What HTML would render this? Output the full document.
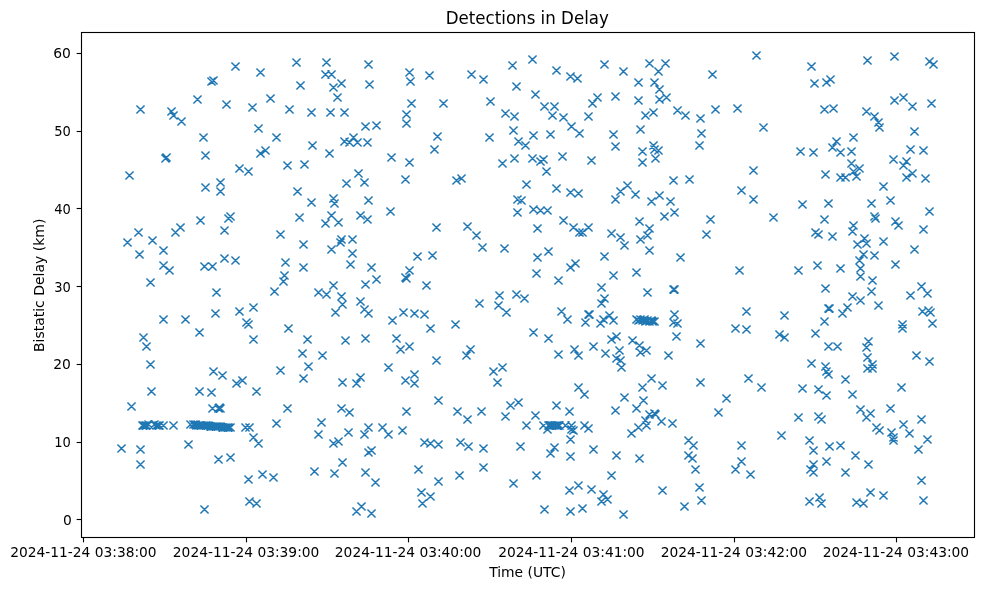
<!DOCTYPE html>
<html lang="en"><head><meta charset="utf-8"><title>Detections in Delay</title>
<style>
html,body{margin:0;padding:0;background:#fff}
body{width:983px;height:590px;overflow:hidden}
svg{display:block}
text{font-family:"DejaVu Sans","Liberation Sans",sans-serif;fill:#000}
.t{font-size:13.89px}
.h{font-size:16.67px}
</style></head>
<body>
<svg width="983" height="590" viewBox="0 0 983 590">
<rect x="0" y="0" width="983" height="590" fill="#fff"/>
<g fill="none" stroke="#1f77b4" stroke-width="1.5">
<path d="M117.45 444.45l8.10 8.10m0 -8.10l-8.10 8.10M123.45 238.45l8.10 8.10m0 -8.10l-8.10 8.10M125.45 171.45l8.10 8.10m0 -8.10l-8.10 8.10M127.45 402.45l8.10 8.10m0 -8.10l-8.10 8.10M134.45 228.45l8.10 8.10m0 -8.10l-8.10 8.10M135.45 250.45l8.10 8.10m0 -8.10l-8.10 8.10M136.45 105.45l8.10 8.10m0 -8.10l-8.10 8.10M136.45 445.45l8.10 8.10m0 -8.10l-8.10 8.10M136.45 460.45l8.10 8.10m0 -8.10l-8.10 8.10M138.45 421.45l8.10 8.10m0 -8.10l-8.10 8.10M139.45 333.45l8.10 8.10m0 -8.10l-8.10 8.10M139.45 421.45l8.10 8.10m0 -8.10l-8.10 8.10M141.45 421.45l8.10 8.10m0 -8.10l-8.10 8.10M142.45 342.45l8.10 8.10m0 -8.10l-8.10 8.10M142.45 421.45l8.10 8.10m0 -8.10l-8.10 8.10M144.45 420.45l8.10 8.10m0 -8.10l-8.10 8.10M146.45 278.45l8.10 8.10m0 -8.10l-8.10 8.10M146.45 360.45l8.10 8.10m0 -8.10l-8.10 8.10M147.45 387.45l8.10 8.10m0 -8.10l-8.10 8.10M148.45 236.45l8.10 8.10m0 -8.10l-8.10 8.10M150.45 420.45l8.10 8.10m0 -8.10l-8.10 8.10M152.45 421.45l8.10 8.10m0 -8.10l-8.10 8.10M154.45 421.45l8.10 8.10m0 -8.10l-8.10 8.10M155.45 421.45l8.10 8.10m0 -8.10l-8.10 8.10M159.45 246.45l8.10 8.10m0 -8.10l-8.10 8.10M159.45 261.45l8.10 8.10m0 -8.10l-8.10 8.10M159.45 315.45l8.10 8.10m0 -8.10l-8.10 8.10M159.45 421.45l8.10 8.10m0 -8.10l-8.10 8.10M161.45 154.45l8.10 8.10m0 -8.10l-8.10 8.10M162.45 153.45l8.10 8.10m0 -8.10l-8.10 8.10M165.45 266.45l8.10 8.10m0 -8.10l-8.10 8.10M167.45 107.45l8.10 8.10m0 -8.10l-8.10 8.10M169.45 111.45l8.10 8.10m0 -8.10l-8.10 8.10M169.45 421.45l8.10 8.10m0 -8.10l-8.10 8.10M171.45 228.45l8.10 8.10m0 -8.10l-8.10 8.10M176.45 223.45l8.10 8.10m0 -8.10l-8.10 8.10M177.45 117.45l8.10 8.10m0 -8.10l-8.10 8.10M181.45 315.45l8.10 8.10m0 -8.10l-8.10 8.10M184.45 440.45l8.10 8.10m0 -8.10l-8.10 8.10M186.45 420.45l8.10 8.10m0 -8.10l-8.10 8.10M189.45 420.45l8.10 8.10m0 -8.10l-8.10 8.10M191.45 420.45l8.10 8.10m0 -8.10l-8.10 8.10M192.45 421.45l8.10 8.10m0 -8.10l-8.10 8.10M193.45 95.45l8.10 8.10m0 -8.10l-8.10 8.10M194.45 421.45l8.10 8.10m0 -8.10l-8.10 8.10M195.45 328.45l8.10 8.10m0 -8.10l-8.10 8.10M195.45 387.45l8.10 8.10m0 -8.10l-8.10 8.10M196.45 216.45l8.10 8.10m0 -8.10l-8.10 8.10M196.45 421.45l8.10 8.10m0 -8.10l-8.10 8.10M197.45 421.45l8.10 8.10m0 -8.10l-8.10 8.10M199.45 133.45l8.10 8.10m0 -8.10l-8.10 8.10M199.45 421.45l8.10 8.10m0 -8.10l-8.10 8.10M200.45 262.45l8.10 8.10m0 -8.10l-8.10 8.10M200.45 505.45l8.10 8.10m0 -8.10l-8.10 8.10M201.45 151.45l8.10 8.10m0 -8.10l-8.10 8.10M201.45 183.45l8.10 8.10m0 -8.10l-8.10 8.10M201.45 421.45l8.10 8.10m0 -8.10l-8.10 8.10M202.45 421.45l8.10 8.10m0 -8.10l-8.10 8.10M204.45 421.45l8.10 8.10m0 -8.10l-8.10 8.10M206.45 422.45l8.10 8.10m0 -8.10l-8.10 8.10M207.45 77.45l8.10 8.10m0 -8.10l-8.10 8.10M207.45 388.45l8.10 8.10m0 -8.10l-8.10 8.10M207.45 422.45l8.10 8.10m0 -8.10l-8.10 8.10M208.45 262.45l8.10 8.10m0 -8.10l-8.10 8.10M208.45 404.45l8.10 8.10m0 -8.10l-8.10 8.10M209.45 76.45l8.10 8.10m0 -8.10l-8.10 8.10M209.45 367.45l8.10 8.10m0 -8.10l-8.10 8.10M209.45 422.45l8.10 8.10m0 -8.10l-8.10 8.10M211.45 309.45l8.10 8.10m0 -8.10l-8.10 8.10M211.45 422.45l8.10 8.10m0 -8.10l-8.10 8.10M212.45 288.45l8.10 8.10m0 -8.10l-8.10 8.10M212.45 422.45l8.10 8.10m0 -8.10l-8.10 8.10M214.45 404.45l8.10 8.10m0 -8.10l-8.10 8.10M214.45 422.45l8.10 8.10m0 -8.10l-8.10 8.10M214.45 455.45l8.10 8.10m0 -8.10l-8.10 8.10M215.45 403.45l8.10 8.10m0 -8.10l-8.10 8.10M216.45 178.45l8.10 8.10m0 -8.10l-8.10 8.10M216.45 187.45l8.10 8.10m0 -8.10l-8.10 8.10M216.45 404.45l8.10 8.10m0 -8.10l-8.10 8.10M216.45 422.45l8.10 8.10m0 -8.10l-8.10 8.10M218.45 371.45l8.10 8.10m0 -8.10l-8.10 8.10M218.45 423.45l8.10 8.10m0 -8.10l-8.10 8.10M219.45 423.45l8.10 8.10m0 -8.10l-8.10 8.10M220.45 226.45l8.10 8.10m0 -8.10l-8.10 8.10M220.45 254.45l8.10 8.10m0 -8.10l-8.10 8.10M221.45 423.45l8.10 8.10m0 -8.10l-8.10 8.10M222.45 100.45l8.10 8.10m0 -8.10l-8.10 8.10M223.45 423.45l8.10 8.10m0 -8.10l-8.10 8.10M224.45 214.45l8.10 8.10m0 -8.10l-8.10 8.10M224.45 423.45l8.10 8.10m0 -8.10l-8.10 8.10M226.45 212.45l8.10 8.10m0 -8.10l-8.10 8.10M226.45 423.45l8.10 8.10m0 -8.10l-8.10 8.10M226.45 453.45l8.10 8.10m0 -8.10l-8.10 8.10M231.45 62.45l8.10 8.10m0 -8.10l-8.10 8.10M231.45 256.45l8.10 8.10m0 -8.10l-8.10 8.10M232.45 379.45l8.10 8.10m0 -8.10l-8.10 8.10M235.45 164.45l8.10 8.10m0 -8.10l-8.10 8.10M235.45 307.45l8.10 8.10m0 -8.10l-8.10 8.10M238.45 376.45l8.10 8.10m0 -8.10l-8.10 8.10M241.45 423.45l8.10 8.10m0 -8.10l-8.10 8.10M242.45 318.45l8.10 8.10m0 -8.10l-8.10 8.10M244.45 167.45l8.10 8.10m0 -8.10l-8.10 8.10M244.45 320.45l8.10 8.10m0 -8.10l-8.10 8.10M244.45 475.45l8.10 8.10m0 -8.10l-8.10 8.10M245.45 423.45l8.10 8.10m0 -8.10l-8.10 8.10M245.45 497.45l8.10 8.10m0 -8.10l-8.10 8.10M248.45 103.45l8.10 8.10m0 -8.10l-8.10 8.10M249.45 303.45l8.10 8.10m0 -8.10l-8.10 8.10M249.45 335.45l8.10 8.10m0 -8.10l-8.10 8.10M249.45 433.45l8.10 8.10m0 -8.10l-8.10 8.10M252.45 387.45l8.10 8.10m0 -8.10l-8.10 8.10M252.45 499.45l8.10 8.10m0 -8.10l-8.10 8.10M254.45 124.45l8.10 8.10m0 -8.10l-8.10 8.10M254.45 439.45l8.10 8.10m0 -8.10l-8.10 8.10M256.45 68.45l8.10 8.10m0 -8.10l-8.10 8.10M256.45 149.45l8.10 8.10m0 -8.10l-8.10 8.10M258.45 470.45l8.10 8.10m0 -8.10l-8.10 8.10M261.45 146.45l8.10 8.10m0 -8.10l-8.10 8.10M266.45 94.45l8.10 8.10m0 -8.10l-8.10 8.10M269.45 473.45l8.10 8.10m0 -8.10l-8.10 8.10M270.45 287.45l8.10 8.10m0 -8.10l-8.10 8.10M272.45 133.45l8.10 8.10m0 -8.10l-8.10 8.10M272.45 419.45l8.10 8.10m0 -8.10l-8.10 8.10M276.45 230.45l8.10 8.10m0 -8.10l-8.10 8.10M276.45 366.45l8.10 8.10m0 -8.10l-8.10 8.10M279.45 277.45l8.10 8.10m0 -8.10l-8.10 8.10M280.45 271.45l8.10 8.10m0 -8.10l-8.10 8.10M281.45 258.45l8.10 8.10m0 -8.10l-8.10 8.10M283.45 161.45l8.10 8.10m0 -8.10l-8.10 8.10M283.45 404.45l8.10 8.10m0 -8.10l-8.10 8.10M284.45 324.45l8.10 8.10m0 -8.10l-8.10 8.10M285.45 105.45l8.10 8.10m0 -8.10l-8.10 8.10M292.45 58.45l8.10 8.10m0 -8.10l-8.10 8.10M293.45 187.45l8.10 8.10m0 -8.10l-8.10 8.10M295.45 213.45l8.10 8.10m0 -8.10l-8.10 8.10M296.45 81.45l8.10 8.10m0 -8.10l-8.10 8.10M298.45 349.45l8.10 8.10m0 -8.10l-8.10 8.10M299.45 240.45l8.10 8.10m0 -8.10l-8.10 8.10M299.45 263.45l8.10 8.10m0 -8.10l-8.10 8.10M299.45 374.45l8.10 8.10m0 -8.10l-8.10 8.10M300.45 160.45l8.10 8.10m0 -8.10l-8.10 8.10M303.45 335.45l8.10 8.10m0 -8.10l-8.10 8.10M304.45 362.45l8.10 8.10m0 -8.10l-8.10 8.10M307.45 108.45l8.10 8.10m0 -8.10l-8.10 8.10M307.45 198.45l8.10 8.10m0 -8.10l-8.10 8.10M308.45 141.45l8.10 8.10m0 -8.10l-8.10 8.10M310.45 467.45l8.10 8.10m0 -8.10l-8.10 8.10M314.45 288.45l8.10 8.10m0 -8.10l-8.10 8.10M314.45 430.45l8.10 8.10m0 -8.10l-8.10 8.10M317.45 418.45l8.10 8.10m0 -8.10l-8.10 8.10M318.45 351.45l8.10 8.10m0 -8.10l-8.10 8.10M321.45 70.45l8.10 8.10m0 -8.10l-8.10 8.10M321.45 219.45l8.10 8.10m0 -8.10l-8.10 8.10M322.45 58.45l8.10 8.10m0 -8.10l-8.10 8.10M322.45 290.45l8.10 8.10m0 -8.10l-8.10 8.10M325.45 149.45l8.10 8.10m0 -8.10l-8.10 8.10M326.45 108.45l8.10 8.10m0 -8.10l-8.10 8.10M327.45 70.45l8.10 8.10m0 -8.10l-8.10 8.10M327.45 211.45l8.10 8.10m0 -8.10l-8.10 8.10M327.45 245.45l8.10 8.10m0 -8.10l-8.10 8.10M329.45 83.45l8.10 8.10m0 -8.10l-8.10 8.10M329.45 194.45l8.10 8.10m0 -8.10l-8.10 8.10M329.45 281.45l8.10 8.10m0 -8.10l-8.10 8.10M329.45 439.45l8.10 8.10m0 -8.10l-8.10 8.10M330.45 199.45l8.10 8.10m0 -8.10l-8.10 8.10M330.45 469.45l8.10 8.10m0 -8.10l-8.10 8.10M331.45 308.45l8.10 8.10m0 -8.10l-8.10 8.10M333.45 93.45l8.10 8.10m0 -8.10l-8.10 8.10M334.45 218.45l8.10 8.10m0 -8.10l-8.10 8.10M334.45 437.45l8.10 8.10m0 -8.10l-8.10 8.10M336.45 238.45l8.10 8.10m0 -8.10l-8.10 8.10M337.45 79.45l8.10 8.10m0 -8.10l-8.10 8.10M337.45 235.45l8.10 8.10m0 -8.10l-8.10 8.10M337.45 292.45l8.10 8.10m0 -8.10l-8.10 8.10M337.45 404.45l8.10 8.10m0 -8.10l-8.10 8.10M338.45 300.45l8.10 8.10m0 -8.10l-8.10 8.10M338.45 378.45l8.10 8.10m0 -8.10l-8.10 8.10M338.45 458.45l8.10 8.10m0 -8.10l-8.10 8.10M340.45 108.45l8.10 8.10m0 -8.10l-8.10 8.10M340.45 137.45l8.10 8.10m0 -8.10l-8.10 8.10M341.45 336.45l8.10 8.10m0 -8.10l-8.10 8.10M342.45 179.45l8.10 8.10m0 -8.10l-8.10 8.10M344.45 428.45l8.10 8.10m0 -8.10l-8.10 8.10M345.45 138.45l8.10 8.10m0 -8.10l-8.10 8.10M345.45 408.45l8.10 8.10m0 -8.10l-8.10 8.10M346.45 260.45l8.10 8.10m0 -8.10l-8.10 8.10M348.45 235.45l8.10 8.10m0 -8.10l-8.10 8.10M348.45 249.45l8.10 8.10m0 -8.10l-8.10 8.10M349.45 133.45l8.10 8.10m0 -8.10l-8.10 8.10M352.45 379.45l8.10 8.10m0 -8.10l-8.10 8.10M352.45 507.45l8.10 8.10m0 -8.10l-8.10 8.10M353.45 138.45l8.10 8.10m0 -8.10l-8.10 8.10M354.45 169.45l8.10 8.10m0 -8.10l-8.10 8.10M356.45 211.45l8.10 8.10m0 -8.10l-8.10 8.10M356.45 297.45l8.10 8.10m0 -8.10l-8.10 8.10M356.45 373.45l8.10 8.10m0 -8.10l-8.10 8.10M357.45 502.45l8.10 8.10m0 -8.10l-8.10 8.10M360.45 178.45l8.10 8.10m0 -8.10l-8.10 8.10M360.45 305.45l8.10 8.10m0 -8.10l-8.10 8.10M360.45 430.45l8.10 8.10m0 -8.10l-8.10 8.10M361.45 122.45l8.10 8.10m0 -8.10l-8.10 8.10M361.45 280.45l8.10 8.10m0 -8.10l-8.10 8.10M361.45 334.45l8.10 8.10m0 -8.10l-8.10 8.10M361.45 468.45l8.10 8.10m0 -8.10l-8.10 8.10M363.45 138.45l8.10 8.10m0 -8.10l-8.10 8.10M363.45 215.45l8.10 8.10m0 -8.10l-8.10 8.10M364.45 60.45l8.10 8.10m0 -8.10l-8.10 8.10M364.45 196.45l8.10 8.10m0 -8.10l-8.10 8.10M364.45 309.45l8.10 8.10m0 -8.10l-8.10 8.10M364.45 423.45l8.10 8.10m0 -8.10l-8.10 8.10M364.45 448.45l8.10 8.10m0 -8.10l-8.10 8.10M365.45 80.45l8.10 8.10m0 -8.10l-8.10 8.10M367.45 263.45l8.10 8.10m0 -8.10l-8.10 8.10M367.45 446.45l8.10 8.10m0 -8.10l-8.10 8.10M367.45 509.45l8.10 8.10m0 -8.10l-8.10 8.10M371.45 478.45l8.10 8.10m0 -8.10l-8.10 8.10M372.45 121.45l8.10 8.10m0 -8.10l-8.10 8.10M372.45 275.45l8.10 8.10m0 -8.10l-8.10 8.10M378.45 423.45l8.10 8.10m0 -8.10l-8.10 8.10M384.45 363.45l8.10 8.10m0 -8.10l-8.10 8.10M384.45 430.45l8.10 8.10m0 -8.10l-8.10 8.10M386.45 207.45l8.10 8.10m0 -8.10l-8.10 8.10M387.45 153.45l8.10 8.10m0 -8.10l-8.10 8.10M388.45 316.45l8.10 8.10m0 -8.10l-8.10 8.10M392.45 334.45l8.10 8.10m0 -8.10l-8.10 8.10M396.45 345.45l8.10 8.10m0 -8.10l-8.10 8.10M398.45 426.45l8.10 8.10m0 -8.10l-8.10 8.10M399.45 308.45l8.10 8.10m0 -8.10l-8.10 8.10M401.45 175.45l8.10 8.10m0 -8.10l-8.10 8.10M401.45 273.45l8.10 8.10m0 -8.10l-8.10 8.10M401.45 376.45l8.10 8.10m0 -8.10l-8.10 8.10M402.45 110.45l8.10 8.10m0 -8.10l-8.10 8.10M402.45 119.45l8.10 8.10m0 -8.10l-8.10 8.10M402.45 274.45l8.10 8.10m0 -8.10l-8.10 8.10M402.45 407.45l8.10 8.10m0 -8.10l-8.10 8.10M405.45 68.45l8.10 8.10m0 -8.10l-8.10 8.10M405.45 158.45l8.10 8.10m0 -8.10l-8.10 8.10M405.45 266.45l8.10 8.10m0 -8.10l-8.10 8.10M405.45 342.45l8.10 8.10m0 -8.10l-8.10 8.10M406.45 77.45l8.10 8.10m0 -8.10l-8.10 8.10M407.45 99.45l8.10 8.10m0 -8.10l-8.10 8.10M410.45 309.45l8.10 8.10m0 -8.10l-8.10 8.10M410.45 370.45l8.10 8.10m0 -8.10l-8.10 8.10M410.45 379.45l8.10 8.10m0 -8.10l-8.10 8.10M413.45 252.45l8.10 8.10m0 -8.10l-8.10 8.10M414.45 465.45l8.10 8.10m0 -8.10l-8.10 8.10M417.45 488.45l8.10 8.10m0 -8.10l-8.10 8.10M418.45 499.45l8.10 8.10m0 -8.10l-8.10 8.10M420.45 310.45l8.10 8.10m0 -8.10l-8.10 8.10M420.45 438.45l8.10 8.10m0 -8.10l-8.10 8.10M422.45 281.45l8.10 8.10m0 -8.10l-8.10 8.10M425.45 71.45l8.10 8.10m0 -8.10l-8.10 8.10M426.45 324.45l8.10 8.10m0 -8.10l-8.10 8.10M426.45 439.45l8.10 8.10m0 -8.10l-8.10 8.10M426.45 492.45l8.10 8.10m0 -8.10l-8.10 8.10M428.45 251.45l8.10 8.10m0 -8.10l-8.10 8.10M430.45 145.45l8.10 8.10m0 -8.10l-8.10 8.10M432.45 223.45l8.10 8.10m0 -8.10l-8.10 8.10M432.45 356.45l8.10 8.10m0 -8.10l-8.10 8.10M433.45 132.45l8.10 8.10m0 -8.10l-8.10 8.10M434.45 396.45l8.10 8.10m0 -8.10l-8.10 8.10M434.45 440.45l8.10 8.10m0 -8.10l-8.10 8.10M434.45 477.45l8.10 8.10m0 -8.10l-8.10 8.10M439.45 99.45l8.10 8.10m0 -8.10l-8.10 8.10M451.45 320.45l8.10 8.10m0 -8.10l-8.10 8.10M452.45 176.45l8.10 8.10m0 -8.10l-8.10 8.10M453.45 407.45l8.10 8.10m0 -8.10l-8.10 8.10M455.45 471.45l8.10 8.10m0 -8.10l-8.10 8.10M456.45 438.45l8.10 8.10m0 -8.10l-8.10 8.10M457.45 174.45l8.10 8.10m0 -8.10l-8.10 8.10M462.45 351.45l8.10 8.10m0 -8.10l-8.10 8.10M463.45 222.45l8.10 8.10m0 -8.10l-8.10 8.10M463.45 415.45l8.10 8.10m0 -8.10l-8.10 8.10M464.45 442.45l8.10 8.10m0 -8.10l-8.10 8.10M466.45 345.45l8.10 8.10m0 -8.10l-8.10 8.10M467.45 70.45l8.10 8.10m0 -8.10l-8.10 8.10M472.45 231.45l8.10 8.10m0 -8.10l-8.10 8.10M475.45 299.45l8.10 8.10m0 -8.10l-8.10 8.10M477.45 407.45l8.10 8.10m0 -8.10l-8.10 8.10M478.45 243.45l8.10 8.10m0 -8.10l-8.10 8.10M479.45 75.45l8.10 8.10m0 -8.10l-8.10 8.10M479.45 444.45l8.10 8.10m0 -8.10l-8.10 8.10M479.45 463.45l8.10 8.10m0 -8.10l-8.10 8.10M485.45 133.45l8.10 8.10m0 -8.10l-8.10 8.10M486.45 97.45l8.10 8.10m0 -8.10l-8.10 8.10M489.45 367.45l8.10 8.10m0 -8.10l-8.10 8.10M493.45 378.45l8.10 8.10m0 -8.10l-8.10 8.10M494.45 301.45l8.10 8.10m0 -8.10l-8.10 8.10M495.45 291.45l8.10 8.10m0 -8.10l-8.10 8.10M498.45 159.45l8.10 8.10m0 -8.10l-8.10 8.10M498.45 363.45l8.10 8.10m0 -8.10l-8.10 8.10M500.45 244.45l8.10 8.10m0 -8.10l-8.10 8.10M501.45 109.45l8.10 8.10m0 -8.10l-8.10 8.10M501.45 412.45l8.10 8.10m0 -8.10l-8.10 8.10M502.45 308.45l8.10 8.10m0 -8.10l-8.10 8.10M506.45 401.45l8.10 8.10m0 -8.10l-8.10 8.10M508.45 61.45l8.10 8.10m0 -8.10l-8.10 8.10M509.45 126.45l8.10 8.10m0 -8.10l-8.10 8.10M509.45 479.45l8.10 8.10m0 -8.10l-8.10 8.10M510.45 112.45l8.10 8.10m0 -8.10l-8.10 8.10M510.45 154.45l8.10 8.10m0 -8.10l-8.10 8.10M512.45 82.45l8.10 8.10m0 -8.10l-8.10 8.10M512.45 290.45l8.10 8.10m0 -8.10l-8.10 8.10M513.45 195.45l8.10 8.10m0 -8.10l-8.10 8.10M513.45 208.45l8.10 8.10m0 -8.10l-8.10 8.10M514.45 137.45l8.10 8.10m0 -8.10l-8.10 8.10M514.45 398.45l8.10 8.10m0 -8.10l-8.10 8.10M516.45 442.45l8.10 8.10m0 -8.10l-8.10 8.10M517.45 196.45l8.10 8.10m0 -8.10l-8.10 8.10M520.45 294.45l8.10 8.10m0 -8.10l-8.10 8.10M521.45 141.45l8.10 8.10m0 -8.10l-8.10 8.10M522.45 180.45l8.10 8.10m0 -8.10l-8.10 8.10M522.45 421.45l8.10 8.10m0 -8.10l-8.10 8.10M528.45 55.45l8.10 8.10m0 -8.10l-8.10 8.10M528.45 154.45l8.10 8.10m0 -8.10l-8.10 8.10M529.45 131.45l8.10 8.10m0 -8.10l-8.10 8.10M529.45 205.45l8.10 8.10m0 -8.10l-8.10 8.10M529.45 328.45l8.10 8.10m0 -8.10l-8.10 8.10M531.45 90.45l8.10 8.10m0 -8.10l-8.10 8.10M531.45 411.45l8.10 8.10m0 -8.10l-8.10 8.10M532.45 269.45l8.10 8.10m0 -8.10l-8.10 8.10M532.45 471.45l8.10 8.10m0 -8.10l-8.10 8.10M533.45 224.45l8.10 8.10m0 -8.10l-8.10 8.10M533.45 253.45l8.10 8.10m0 -8.10l-8.10 8.10M536.45 157.45l8.10 8.10m0 -8.10l-8.10 8.10M536.45 206.45l8.10 8.10m0 -8.10l-8.10 8.10M539.45 155.45l8.10 8.10m0 -8.10l-8.10 8.10M539.45 421.45l8.10 8.10m0 -8.10l-8.10 8.10M540.45 102.45l8.10 8.10m0 -8.10l-8.10 8.10M540.45 505.45l8.10 8.10m0 -8.10l-8.10 8.10M542.45 167.45l8.10 8.10m0 -8.10l-8.10 8.10M543.45 206.45l8.10 8.10m0 -8.10l-8.10 8.10M543.45 425.45l8.10 8.10m0 -8.10l-8.10 8.10M544.45 247.45l8.10 8.10m0 -8.10l-8.10 8.10M544.45 334.45l8.10 8.10m0 -8.10l-8.10 8.10M544.45 421.45l8.10 8.10m0 -8.10l-8.10 8.10M545.45 421.45l8.10 8.10m0 -8.10l-8.10 8.10M546.45 130.45l8.10 8.10m0 -8.10l-8.10 8.10M546.45 449.45l8.10 8.10m0 -8.10l-8.10 8.10M547.45 421.45l8.10 8.10m0 -8.10l-8.10 8.10M548.45 111.45l8.10 8.10m0 -8.10l-8.10 8.10M548.45 421.45l8.10 8.10m0 -8.10l-8.10 8.10M550.45 102.45l8.10 8.10m0 -8.10l-8.10 8.10M550.45 421.45l8.10 8.10m0 -8.10l-8.10 8.10M550.45 443.45l8.10 8.10m0 -8.10l-8.10 8.10M552.45 66.45l8.10 8.10m0 -8.10l-8.10 8.10M552.45 184.45l8.10 8.10m0 -8.10l-8.10 8.10M552.45 401.45l8.10 8.10m0 -8.10l-8.10 8.10M552.45 421.45l8.10 8.10m0 -8.10l-8.10 8.10M553.45 421.45l8.10 8.10m0 -8.10l-8.10 8.10M554.45 276.45l8.10 8.10m0 -8.10l-8.10 8.10M554.45 350.45l8.10 8.10m0 -8.10l-8.10 8.10M555.45 421.45l8.10 8.10m0 -8.10l-8.10 8.10M557.45 307.45l8.10 8.10m0 -8.10l-8.10 8.10M558.45 152.45l8.10 8.10m0 -8.10l-8.10 8.10M559.45 113.45l8.10 8.10m0 -8.10l-8.10 8.10M559.45 216.45l8.10 8.10m0 -8.10l-8.10 8.10M561.45 421.45l8.10 8.10m0 -8.10l-8.10 8.10M563.45 315.45l8.10 8.10m0 -8.10l-8.10 8.10M565.45 407.45l8.10 8.10m0 -8.10l-8.10 8.10M565.45 486.45l8.10 8.10m0 -8.10l-8.10 8.10M566.45 72.45l8.10 8.10m0 -8.10l-8.10 8.10M566.45 188.45l8.10 8.10m0 -8.10l-8.10 8.10M566.45 263.45l8.10 8.10m0 -8.10l-8.10 8.10M566.45 435.45l8.10 8.10m0 -8.10l-8.10 8.10M566.45 452.45l8.10 8.10m0 -8.10l-8.10 8.10M566.45 507.45l8.10 8.10m0 -8.10l-8.10 8.10M567.45 122.45l8.10 8.10m0 -8.10l-8.10 8.10M567.45 421.45l8.10 8.10m0 -8.10l-8.10 8.10M567.45 425.45l8.10 8.10m0 -8.10l-8.10 8.10M569.45 223.45l8.10 8.10m0 -8.10l-8.10 8.10M569.45 426.45l8.10 8.10m0 -8.10l-8.10 8.10M570.45 345.45l8.10 8.10m0 -8.10l-8.10 8.10M571.45 259.45l8.10 8.10m0 -8.10l-8.10 8.10M573.45 74.45l8.10 8.10m0 -8.10l-8.10 8.10M574.45 189.45l8.10 8.10m0 -8.10l-8.10 8.10M574.45 351.45l8.10 8.10m0 -8.10l-8.10 8.10M574.45 383.45l8.10 8.10m0 -8.10l-8.10 8.10M574.45 481.45l8.10 8.10m0 -8.10l-8.10 8.10M575.45 129.45l8.10 8.10m0 -8.10l-8.10 8.10M575.45 228.45l8.10 8.10m0 -8.10l-8.10 8.10M578.45 228.45l8.10 8.10m0 -8.10l-8.10 8.10M578.45 504.45l8.10 8.10m0 -8.10l-8.10 8.10M580.45 390.45l8.10 8.10m0 -8.10l-8.10 8.10M580.45 421.45l8.10 8.10m0 -8.10l-8.10 8.10M581.45 318.45l8.10 8.10m0 -8.10l-8.10 8.10M584.45 112.45l8.10 8.10m0 -8.10l-8.10 8.10M584.45 223.45l8.10 8.10m0 -8.10l-8.10 8.10M584.45 310.45l8.10 8.10m0 -8.10l-8.10 8.10M584.45 424.45l8.10 8.10m0 -8.10l-8.10 8.10M585.45 310.45l8.10 8.10m0 -8.10l-8.10 8.10M587.45 156.45l8.10 8.10m0 -8.10l-8.10 8.10M587.45 485.45l8.10 8.10m0 -8.10l-8.10 8.10M588.45 99.45l8.10 8.10m0 -8.10l-8.10 8.10M589.45 342.45l8.10 8.10m0 -8.10l-8.10 8.10M589.45 445.45l8.10 8.10m0 -8.10l-8.10 8.10M593.45 93.45l8.10 8.10m0 -8.10l-8.10 8.10M596.45 319.45l8.10 8.10m0 -8.10l-8.10 8.10M597.45 283.45l8.10 8.10m0 -8.10l-8.10 8.10M597.45 299.45l8.10 8.10m0 -8.10l-8.10 8.10M597.45 497.45l8.10 8.10m0 -8.10l-8.10 8.10M599.45 315.45l8.10 8.10m0 -8.10l-8.10 8.10M599.45 490.45l8.10 8.10m0 -8.10l-8.10 8.10M600.45 60.45l8.10 8.10m0 -8.10l-8.10 8.10M600.45 252.45l8.10 8.10m0 -8.10l-8.10 8.10M600.45 294.45l8.10 8.10m0 -8.10l-8.10 8.10M601.45 349.45l8.10 8.10m0 -8.10l-8.10 8.10M603.45 495.45l8.10 8.10m0 -8.10l-8.10 8.10M605.45 311.45l8.10 8.10m0 -8.10l-8.10 8.10M607.45 229.45l8.10 8.10m0 -8.10l-8.10 8.10M607.45 335.45l8.10 8.10m0 -8.10l-8.10 8.10M607.45 471.45l8.10 8.10m0 -8.10l-8.10 8.10M609.45 130.45l8.10 8.10m0 -8.10l-8.10 8.10M609.45 271.45l8.10 8.10m0 -8.10l-8.10 8.10M609.45 316.45l8.10 8.10m0 -8.10l-8.10 8.10M611.45 92.45l8.10 8.10m0 -8.10l-8.10 8.10M611.45 142.45l8.10 8.10m0 -8.10l-8.10 8.10M611.45 195.45l8.10 8.10m0 -8.10l-8.10 8.10M611.45 406.45l8.10 8.10m0 -8.10l-8.10 8.10M612.45 332.45l8.10 8.10m0 -8.10l-8.10 8.10M612.45 354.45l8.10 8.10m0 -8.10l-8.10 8.10M612.45 451.45l8.10 8.10m0 -8.10l-8.10 8.10M615.45 346.45l8.10 8.10m0 -8.10l-8.10 8.10M616.45 187.45l8.10 8.10m0 -8.10l-8.10 8.10M616.45 233.45l8.10 8.10m0 -8.10l-8.10 8.10M616.45 356.45l8.10 8.10m0 -8.10l-8.10 8.10M617.45 363.45l8.10 8.10m0 -8.10l-8.10 8.10M619.45 67.45l8.10 8.10m0 -8.10l-8.10 8.10M619.45 510.45l8.10 8.10m0 -8.10l-8.10 8.10M620.45 241.45l8.10 8.10m0 -8.10l-8.10 8.10M620.45 393.45l8.10 8.10m0 -8.10l-8.10 8.10M623.45 181.45l8.10 8.10m0 -8.10l-8.10 8.10M627.45 429.45l8.10 8.10m0 -8.10l-8.10 8.10M628.45 336.45l8.10 8.10m0 -8.10l-8.10 8.10M631.45 190.45l8.10 8.10m0 -8.10l-8.10 8.10M632.45 268.45l8.10 8.10m0 -8.10l-8.10 8.10M632.45 315.45l8.10 8.10m0 -8.10l-8.10 8.10M632.45 404.45l8.10 8.10m0 -8.10l-8.10 8.10M634.45 78.45l8.10 8.10m0 -8.10l-8.10 8.10M634.45 96.45l8.10 8.10m0 -8.10l-8.10 8.10M634.45 316.45l8.10 8.10m0 -8.10l-8.10 8.10M634.45 423.45l8.10 8.10m0 -8.10l-8.10 8.10M635.45 217.45l8.10 8.10m0 -8.10l-8.10 8.10M635.45 341.45l8.10 8.10m0 -8.10l-8.10 8.10M635.45 454.45l8.10 8.10m0 -8.10l-8.10 8.10M636.45 125.45l8.10 8.10m0 -8.10l-8.10 8.10M636.45 235.45l8.10 8.10m0 -8.10l-8.10 8.10M636.45 315.45l8.10 8.10m0 -8.10l-8.10 8.10M636.45 348.45l8.10 8.10m0 -8.10l-8.10 8.10M638.45 147.45l8.10 8.10m0 -8.10l-8.10 8.10M638.45 158.45l8.10 8.10m0 -8.10l-8.10 8.10M638.45 316.45l8.10 8.10m0 -8.10l-8.10 8.10M638.45 383.45l8.10 8.10m0 -8.10l-8.10 8.10M639.45 396.45l8.10 8.10m0 -8.10l-8.10 8.10M640.45 315.45l8.10 8.10m0 -8.10l-8.10 8.10M641.45 111.45l8.10 8.10m0 -8.10l-8.10 8.10M641.45 317.45l8.10 8.10m0 -8.10l-8.10 8.10M641.45 416.45l8.10 8.10m0 -8.10l-8.10 8.10M642.45 346.45l8.10 8.10m0 -8.10l-8.10 8.10M642.45 421.45l8.10 8.10m0 -8.10l-8.10 8.10M643.45 231.45l8.10 8.10m0 -8.10l-8.10 8.10M643.45 288.45l8.10 8.10m0 -8.10l-8.10 8.10M643.45 316.45l8.10 8.10m0 -8.10l-8.10 8.10M645.45 59.45l8.10 8.10m0 -8.10l-8.10 8.10M645.45 224.45l8.10 8.10m0 -8.10l-8.10 8.10M645.45 246.45l8.10 8.10m0 -8.10l-8.10 8.10M645.45 317.45l8.10 8.10m0 -8.10l-8.10 8.10M645.45 410.45l8.10 8.10m0 -8.10l-8.10 8.10M647.45 197.45l8.10 8.10m0 -8.10l-8.10 8.10M647.45 316.45l8.10 8.10m0 -8.10l-8.10 8.10M647.45 374.45l8.10 8.10m0 -8.10l-8.10 8.10M648.45 317.45l8.10 8.10m0 -8.10l-8.10 8.10M649.45 108.45l8.10 8.10m0 -8.10l-8.10 8.10M649.45 141.45l8.10 8.10m0 -8.10l-8.10 8.10M650.45 78.45l8.10 8.10m0 -8.10l-8.10 8.10M650.45 145.45l8.10 8.10m0 -8.10l-8.10 8.10M650.45 317.45l8.10 8.10m0 -8.10l-8.10 8.10M650.45 409.45l8.10 8.10m0 -8.10l-8.10 8.10M651.45 154.45l8.10 8.10m0 -8.10l-8.10 8.10M651.45 410.45l8.10 8.10m0 -8.10l-8.10 8.10M654.45 67.45l8.10 8.10m0 -8.10l-8.10 8.10M654.45 146.45l8.10 8.10m0 -8.10l-8.10 8.10M655.45 85.45l8.10 8.10m0 -8.10l-8.10 8.10M655.45 95.45l8.10 8.10m0 -8.10l-8.10 8.10M655.45 191.45l8.10 8.10m0 -8.10l-8.10 8.10M657.45 417.45l8.10 8.10m0 -8.10l-8.10 8.10M658.45 381.45l8.10 8.10m0 -8.10l-8.10 8.10M658.45 486.45l8.10 8.10m0 -8.10l-8.10 8.10M660.45 212.45l8.10 8.10m0 -8.10l-8.10 8.10M661.45 59.45l8.10 8.10m0 -8.10l-8.10 8.10M662.45 93.45l8.10 8.10m0 -8.10l-8.10 8.10M664.45 351.45l8.10 8.10m0 -8.10l-8.10 8.10M666.45 197.45l8.10 8.10m0 -8.10l-8.10 8.10M668.45 419.45l8.10 8.10m0 -8.10l-8.10 8.10M669.45 176.45l8.10 8.10m0 -8.10l-8.10 8.10M669.45 285.45l8.10 8.10m0 -8.10l-8.10 8.10M669.45 318.45l8.10 8.10m0 -8.10l-8.10 8.10M670.45 208.45l8.10 8.10m0 -8.10l-8.10 8.10M670.45 285.45l8.10 8.10m0 -8.10l-8.10 8.10M670.45 310.45l8.10 8.10m0 -8.10l-8.10 8.10M672.45 332.45l8.10 8.10m0 -8.10l-8.10 8.10M673.45 106.45l8.10 8.10m0 -8.10l-8.10 8.10M673.45 319.45l8.10 8.10m0 -8.10l-8.10 8.10M676.45 253.45l8.10 8.10m0 -8.10l-8.10 8.10M680.45 502.45l8.10 8.10m0 -8.10l-8.10 8.10M681.45 111.45l8.10 8.10m0 -8.10l-8.10 8.10M684.45 436.45l8.10 8.10m0 -8.10l-8.10 8.10M684.45 451.45l8.10 8.10m0 -8.10l-8.10 8.10M685.45 175.45l8.10 8.10m0 -8.10l-8.10 8.10M688.45 454.45l8.10 8.10m0 -8.10l-8.10 8.10M689.45 441.45l8.10 8.10m0 -8.10l-8.10 8.10M691.45 465.45l8.10 8.10m0 -8.10l-8.10 8.10M695.45 141.45l8.10 8.10m0 -8.10l-8.10 8.10M695.45 483.45l8.10 8.10m0 -8.10l-8.10 8.10M696.45 114.45l8.10 8.10m0 -8.10l-8.10 8.10M696.45 339.45l8.10 8.10m0 -8.10l-8.10 8.10M696.45 378.45l8.10 8.10m0 -8.10l-8.10 8.10M697.45 129.45l8.10 8.10m0 -8.10l-8.10 8.10M697.45 496.45l8.10 8.10m0 -8.10l-8.10 8.10M702.45 230.45l8.10 8.10m0 -8.10l-8.10 8.10M706.45 215.45l8.10 8.10m0 -8.10l-8.10 8.10M708.45 70.45l8.10 8.10m0 -8.10l-8.10 8.10M711.45 105.45l8.10 8.10m0 -8.10l-8.10 8.10M714.45 408.45l8.10 8.10m0 -8.10l-8.10 8.10M722.45 394.45l8.10 8.10m0 -8.10l-8.10 8.10M731.45 324.45l8.10 8.10m0 -8.10l-8.10 8.10M731.45 465.45l8.10 8.10m0 -8.10l-8.10 8.10M733.45 104.45l8.10 8.10m0 -8.10l-8.10 8.10M735.45 266.45l8.10 8.10m0 -8.10l-8.10 8.10M737.45 186.45l8.10 8.10m0 -8.10l-8.10 8.10M737.45 441.45l8.10 8.10m0 -8.10l-8.10 8.10M737.45 457.45l8.10 8.10m0 -8.10l-8.10 8.10M742.45 307.45l8.10 8.10m0 -8.10l-8.10 8.10M742.45 325.45l8.10 8.10m0 -8.10l-8.10 8.10M744.45 374.45l8.10 8.10m0 -8.10l-8.10 8.10M746.45 470.45l8.10 8.10m0 -8.10l-8.10 8.10M749.45 166.45l8.10 8.10m0 -8.10l-8.10 8.10M749.45 195.45l8.10 8.10m0 -8.10l-8.10 8.10M752.45 51.45l8.10 8.10m0 -8.10l-8.10 8.10M757.45 383.45l8.10 8.10m0 -8.10l-8.10 8.10M759.45 123.45l8.10 8.10m0 -8.10l-8.10 8.10M769.45 213.45l8.10 8.10m0 -8.10l-8.10 8.10M775.45 330.45l8.10 8.10m0 -8.10l-8.10 8.10M777.45 431.45l8.10 8.10m0 -8.10l-8.10 8.10M780.45 311.45l8.10 8.10m0 -8.10l-8.10 8.10M780.45 333.45l8.10 8.10m0 -8.10l-8.10 8.10M794.45 266.45l8.10 8.10m0 -8.10l-8.10 8.10M794.45 413.45l8.10 8.10m0 -8.10l-8.10 8.10M796.45 147.45l8.10 8.10m0 -8.10l-8.10 8.10M798.45 200.45l8.10 8.10m0 -8.10l-8.10 8.10M798.45 384.45l8.10 8.10m0 -8.10l-8.10 8.10M805.45 436.45l8.10 8.10m0 -8.10l-8.10 8.10M805.45 497.45l8.10 8.10m0 -8.10l-8.10 8.10M806.45 465.45l8.10 8.10m0 -8.10l-8.10 8.10M807.45 62.45l8.10 8.10m0 -8.10l-8.10 8.10M807.45 359.45l8.10 8.10m0 -8.10l-8.10 8.10M809.45 148.45l8.10 8.10m0 -8.10l-8.10 8.10M809.45 446.45l8.10 8.10m0 -8.10l-8.10 8.10M809.45 460.45l8.10 8.10m0 -8.10l-8.10 8.10M809.45 468.45l8.10 8.10m0 -8.10l-8.10 8.10M810.45 79.45l8.10 8.10m0 -8.10l-8.10 8.10M811.45 228.45l8.10 8.10m0 -8.10l-8.10 8.10M811.45 329.45l8.10 8.10m0 -8.10l-8.10 8.10M813.45 261.45l8.10 8.10m0 -8.10l-8.10 8.10M814.45 230.45l8.10 8.10m0 -8.10l-8.10 8.10M814.45 385.45l8.10 8.10m0 -8.10l-8.10 8.10M814.45 412.45l8.10 8.10m0 -8.10l-8.10 8.10M815.45 493.45l8.10 8.10m0 -8.10l-8.10 8.10M817.45 415.45l8.10 8.10m0 -8.10l-8.10 8.10M817.45 499.45l8.10 8.10m0 -8.10l-8.10 8.10M820.45 105.45l8.10 8.10m0 -8.10l-8.10 8.10M820.45 215.45l8.10 8.10m0 -8.10l-8.10 8.10M820.45 317.45l8.10 8.10m0 -8.10l-8.10 8.10M821.45 170.45l8.10 8.10m0 -8.10l-8.10 8.10M821.45 284.45l8.10 8.10m0 -8.10l-8.10 8.10M821.45 362.45l8.10 8.10m0 -8.10l-8.10 8.10M822.45 78.45l8.10 8.10m0 -8.10l-8.10 8.10M822.45 367.45l8.10 8.10m0 -8.10l-8.10 8.10M822.45 391.45l8.10 8.10m0 -8.10l-8.10 8.10M822.45 457.45l8.10 8.10m0 -8.10l-8.10 8.10M824.45 199.45l8.10 8.10m0 -8.10l-8.10 8.10M824.45 304.45l8.10 8.10m0 -8.10l-8.10 8.10M824.45 342.45l8.10 8.10m0 -8.10l-8.10 8.10M824.45 370.45l8.10 8.10m0 -8.10l-8.10 8.10M825.45 304.45l8.10 8.10m0 -8.10l-8.10 8.10M825.45 442.45l8.10 8.10m0 -8.10l-8.10 8.10M826.45 75.45l8.10 8.10m0 -8.10l-8.10 8.10M828.45 143.45l8.10 8.10m0 -8.10l-8.10 8.10M828.45 232.45l8.10 8.10m0 -8.10l-8.10 8.10M829.45 104.45l8.10 8.10m0 -8.10l-8.10 8.10M832.45 137.45l8.10 8.10m0 -8.10l-8.10 8.10M833.45 342.45l8.10 8.10m0 -8.10l-8.10 8.10M836.45 148.45l8.10 8.10m0 -8.10l-8.10 8.10M836.45 173.45l8.10 8.10m0 -8.10l-8.10 8.10M836.45 264.45l8.10 8.10m0 -8.10l-8.10 8.10M836.45 441.45l8.10 8.10m0 -8.10l-8.10 8.10M838.45 309.45l8.10 8.10m0 -8.10l-8.10 8.10M841.45 173.45l8.10 8.10m0 -8.10l-8.10 8.10M841.45 375.45l8.10 8.10m0 -8.10l-8.10 8.10M841.45 468.45l8.10 8.10m0 -8.10l-8.10 8.10M843.45 303.45l8.10 8.10m0 -8.10l-8.10 8.10M847.45 147.45l8.10 8.10m0 -8.10l-8.10 8.10M847.45 159.45l8.10 8.10m0 -8.10l-8.10 8.10M848.45 227.45l8.10 8.10m0 -8.10l-8.10 8.10M848.45 292.45l8.10 8.10m0 -8.10l-8.10 8.10M848.45 390.45l8.10 8.10m0 -8.10l-8.10 8.10M849.45 133.45l8.10 8.10m0 -8.10l-8.10 8.10M849.45 167.45l8.10 8.10m0 -8.10l-8.10 8.10M849.45 221.45l8.10 8.10m0 -8.10l-8.10 8.10M851.45 451.45l8.10 8.10m0 -8.10l-8.10 8.10M852.45 172.45l8.10 8.10m0 -8.10l-8.10 8.10M852.45 498.45l8.10 8.10m0 -8.10l-8.10 8.10M853.45 240.45l8.10 8.10m0 -8.10l-8.10 8.10M855.45 164.45l8.10 8.10m0 -8.10l-8.10 8.10M855.45 256.45l8.10 8.10m0 -8.10l-8.10 8.10M856.45 264.45l8.10 8.10m0 -8.10l-8.10 8.10M856.45 272.45l8.10 8.10m0 -8.10l-8.10 8.10M856.45 296.45l8.10 8.10m0 -8.10l-8.10 8.10M856.45 405.45l8.10 8.10m0 -8.10l-8.10 8.10M859.45 250.45l8.10 8.10m0 -8.10l-8.10 8.10M859.45 499.45l8.10 8.10m0 -8.10l-8.10 8.10M860.45 234.45l8.10 8.10m0 -8.10l-8.10 8.10M862.45 107.45l8.10 8.10m0 -8.10l-8.10 8.10M862.45 239.45l8.10 8.10m0 -8.10l-8.10 8.10M862.45 343.45l8.10 8.10m0 -8.10l-8.10 8.10M862.45 413.45l8.10 8.10m0 -8.10l-8.10 8.10M863.45 56.45l8.10 8.10m0 -8.10l-8.10 8.10M863.45 353.45l8.10 8.10m0 -8.10l-8.10 8.10M863.45 364.45l8.10 8.10m0 -8.10l-8.10 8.10M864.45 337.45l8.10 8.10m0 -8.10l-8.10 8.10M864.45 460.45l8.10 8.10m0 -8.10l-8.10 8.10M866.45 409.45l8.10 8.10m0 -8.10l-8.10 8.10M866.45 488.45l8.10 8.10m0 -8.10l-8.10 8.10M867.45 199.45l8.10 8.10m0 -8.10l-8.10 8.10M867.45 287.45l8.10 8.10m0 -8.10l-8.10 8.10M868.45 276.45l8.10 8.10m0 -8.10l-8.10 8.10M868.45 360.45l8.10 8.10m0 -8.10l-8.10 8.10M868.45 364.45l8.10 8.10m0 -8.10l-8.10 8.10M870.45 112.45l8.10 8.10m0 -8.10l-8.10 8.10M870.45 212.45l8.10 8.10m0 -8.10l-8.10 8.10M870.45 251.45l8.10 8.10m0 -8.10l-8.10 8.10M871.45 214.45l8.10 8.10m0 -8.10l-8.10 8.10M872.45 423.45l8.10 8.10m0 -8.10l-8.10 8.10M874.45 118.45l8.10 8.10m0 -8.10l-8.10 8.10M874.45 301.45l8.10 8.10m0 -8.10l-8.10 8.10M875.45 123.45l8.10 8.10m0 -8.10l-8.10 8.10M875.45 426.45l8.10 8.10m0 -8.10l-8.10 8.10M879.45 182.45l8.10 8.10m0 -8.10l-8.10 8.10M879.45 237.45l8.10 8.10m0 -8.10l-8.10 8.10M879.45 491.45l8.10 8.10m0 -8.10l-8.10 8.10M886.45 196.45l8.10 8.10m0 -8.10l-8.10 8.10M886.45 404.45l8.10 8.10m0 -8.10l-8.10 8.10M887.45 428.45l8.10 8.10m0 -8.10l-8.10 8.10M889.45 155.45l8.10 8.10m0 -8.10l-8.10 8.10M889.45 433.45l8.10 8.10m0 -8.10l-8.10 8.10M889.45 436.45l8.10 8.10m0 -8.10l-8.10 8.10M890.45 52.45l8.10 8.10m0 -8.10l-8.10 8.10M890.45 96.45l8.10 8.10m0 -8.10l-8.10 8.10M891.45 217.45l8.10 8.10m0 -8.10l-8.10 8.10M891.45 260.45l8.10 8.10m0 -8.10l-8.10 8.10M894.45 221.45l8.10 8.10m0 -8.10l-8.10 8.10M897.45 383.45l8.10 8.10m0 -8.10l-8.10 8.10M898.45 320.45l8.10 8.10m0 -8.10l-8.10 8.10M898.45 324.45l8.10 8.10m0 -8.10l-8.10 8.10M899.45 93.45l8.10 8.10m0 -8.10l-8.10 8.10M899.45 161.45l8.10 8.10m0 -8.10l-8.10 8.10M899.45 420.45l8.10 8.10m0 -8.10l-8.10 8.10M902.45 157.45l8.10 8.10m0 -8.10l-8.10 8.10M902.45 173.45l8.10 8.10m0 -8.10l-8.10 8.10M905.45 429.45l8.10 8.10m0 -8.10l-8.10 8.10M906.45 145.45l8.10 8.10m0 -8.10l-8.10 8.10M906.45 291.45l8.10 8.10m0 -8.10l-8.10 8.10M908.45 102.45l8.10 8.10m0 -8.10l-8.10 8.10M908.45 169.45l8.10 8.10m0 -8.10l-8.10 8.10M910.45 127.45l8.10 8.10m0 -8.10l-8.10 8.10M910.45 245.45l8.10 8.10m0 -8.10l-8.10 8.10M912.45 351.45l8.10 8.10m0 -8.10l-8.10 8.10M914.45 445.45l8.10 8.10m0 -8.10l-8.10 8.10M917.45 282.45l8.10 8.10m0 -8.10l-8.10 8.10M917.45 415.45l8.10 8.10m0 -8.10l-8.10 8.10M917.45 476.45l8.10 8.10m0 -8.10l-8.10 8.10M918.45 307.45l8.10 8.10m0 -8.10l-8.10 8.10M919.45 146.45l8.10 8.10m0 -8.10l-8.10 8.10M919.45 225.45l8.10 8.10m0 -8.10l-8.10 8.10M919.45 496.45l8.10 8.10m0 -8.10l-8.10 8.10M921.45 174.45l8.10 8.10m0 -8.10l-8.10 8.10M923.45 289.45l8.10 8.10m0 -8.10l-8.10 8.10M923.45 435.45l8.10 8.10m0 -8.10l-8.10 8.10M924.45 306.45l8.10 8.10m0 -8.10l-8.10 8.10M925.45 57.45l8.10 8.10m0 -8.10l-8.10 8.10M925.45 207.45l8.10 8.10m0 -8.10l-8.10 8.10M925.45 357.45l8.10 8.10m0 -8.10l-8.10 8.10M926.45 308.45l8.10 8.10m0 -8.10l-8.10 8.10M927.45 99.45l8.10 8.10m0 -8.10l-8.10 8.10M928.45 319.45l8.10 8.10m0 -8.10l-8.10 8.10M929.45 60.45l8.10 8.10m0 -8.10l-8.10 8.10"/>
</g>
<rect x="81.5" y="32.5" width="893.0" height="505.0" fill="none" stroke="#000" stroke-width="1.11"/>
<g stroke="#000" stroke-width="1.11">
<line x1="83.5" y1="537.5" x2="83.5" y2="542.36"/>
<line x1="246.5" y1="537.5" x2="246.5" y2="542.36"/>
<line x1="408.5" y1="537.5" x2="408.5" y2="542.36"/>
<line x1="571.5" y1="537.5" x2="571.5" y2="542.36"/>
<line x1="734.5" y1="537.5" x2="734.5" y2="542.36"/>
<line x1="896.5" y1="537.5" x2="896.5" y2="542.36"/>
<line x1="81.5" y1="53.5" x2="76.64" y2="53.5"/>
<line x1="81.5" y1="131.5" x2="76.64" y2="131.5"/>
<line x1="81.5" y1="208.5" x2="76.64" y2="208.5"/>
<line x1="81.5" y1="286.5" x2="76.64" y2="286.5"/>
<line x1="81.5" y1="364.5" x2="76.64" y2="364.5"/>
<line x1="81.5" y1="442.5" x2="76.64" y2="442.5"/>
<line x1="81.5" y1="519.5" x2="76.64" y2="519.5"/>
</g>
<g class="t" text-anchor="middle">
<text x="83.4" y="557" textLength="146.5" lengthAdjust="spacingAndGlyphs">2024-11-24 03:38:00</text>
<text x="246.1" y="557" textLength="146.5" lengthAdjust="spacingAndGlyphs">2024-11-24 03:39:00</text>
<text x="408.1" y="557" textLength="146.5" lengthAdjust="spacingAndGlyphs">2024-11-24 03:40:00</text>
<text x="571.4" y="557" textLength="146.5" lengthAdjust="spacingAndGlyphs">2024-11-24 03:41:00</text>
<text x="733.9" y="557" textLength="146.5" lengthAdjust="spacingAndGlyphs">2024-11-24 03:42:00</text>
<text x="895.9" y="557" textLength="146.5" lengthAdjust="spacingAndGlyphs">2024-11-24 03:43:00</text>
</g>
<g class="t" text-anchor="end">
<text x="70.85" y="58">60</text>
<text x="70.8" y="136" textLength="16.6" lengthAdjust="spacingAndGlyphs">50</text>
<text x="70.8" y="214" textLength="16.6" lengthAdjust="spacingAndGlyphs">40</text>
<text x="70.8" y="291.5" textLength="16.6" lengthAdjust="spacingAndGlyphs">30</text>
<text x="70.85" y="369">20</text>
<text x="70.8" y="447" textLength="16.6" lengthAdjust="spacingAndGlyphs">10</text>
<text x="71.9" y="525">0</text>
</g>
<text class="t" text-anchor="middle" x="527.5" y="576.7">Time (UTC)</text>
<text class="t" text-anchor="middle" transform="translate(43.5 285.35) rotate(-90)" textLength="133.5" lengthAdjust="spacingAndGlyphs">Bistatic Delay (km)</text>
<text class="h" text-anchor="middle" transform="translate(527.3 24) scale(1 1.075)">Detections in Delay</text>
</svg>
</body></html>
